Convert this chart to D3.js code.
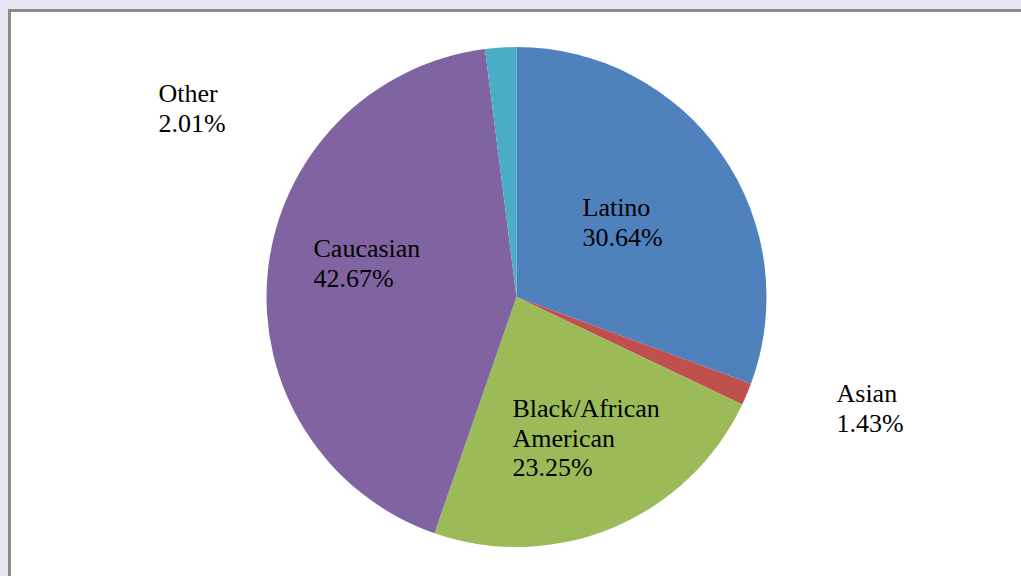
<!DOCTYPE html>
<html>
<head>
<meta charset="utf-8">
<script src="https://cdn.jsdelivr.net/npm/d3@7"></script>
<style>
  html, body { margin: 0; padding: 0; background: #e9e5f5; }
  svg { display: block; }
  .label { font-family: "Liberation Serif", "Times New Roman", serif; font-size: 26px; fill: #000; }
</style>
</head>
<body>
<svg id="chart" width="1021" height="576"></svg>
<script>
// Slices, clockwise from 12 o'clock
const categories = ['Latino', 'Asian', 'Black/African American', 'Caucasian', 'Other'];
const shares = [30.64, 1.43, 23.25, 42.67, 2.01];
const colors = ['#4f81bd', '#c0504d', '#9bbb59', '#8064a2', '#4bacc6'];

// Label lines (as shown on the chart)
const labelLines = [
  ['Latino', '30.64%'],
  ['Asian', '1.43%'],
  ['Black/African', 'American', '23.25%'],
  ['Caucasian', '42.67%'],
  ['Other', '2.01%']
];

const width = 1021;
const height = 576;
const cx = 516.5;
const cy = 297;
const radius = 250;

const svg = d3.select('#chart');

// Chart area with grey frame
svg.append('rect')
  .attr('x', 9.5)
  .attr('y', 10.5)
  .attr('width', width + 20)
  .attr('height', height + 20)
  .attr('fill', '#fff')
  .attr('stroke', '#8c8c8c')
  .attr('stroke-width', 3);

const pie = d3.pie()
  .value(d => d)
  .sort(null);

const arcs = pie(shares);

const arc = d3.arc()
  .innerRadius(0)
  .outerRadius(radius);

const g = svg.append('g')
  .attr('transform', `translate(${cx}, ${cy})`);

g.selectAll('path.slice')
  .data(arcs)
  .join('path')
  .attr('class', 'slice')
  .attr('d', arc)
  .attr('fill', (d, i) => colors[i]);

// Label offsets from the pie centre: left edge and first baseline
const labelPos = [
  { dx: 66, dy: -81 },    // Latino
  { dx: 320, dy: 105 },   // Asian
  { dx: -4, dy: 120 },    // Black/African American
  { dx: -203, dy: -40 },  // Caucasian
  { dx: -358, dy: -195 }  // Other
];

const lineHeight = 29.5;

const labels = svg.append('g');

labelLines.forEach((lines, i) => {
  const p = labelPos[i];
  const t = labels.append('text')
    .attr('class', 'label')
    .attr('x', cx + p.dx)
    .attr('y', cy + p.dy);
  lines.forEach((s, j) => {
    t.append('tspan')
      .attr('x', cx + p.dx)
      .attr('dy', j === 0 ? 0 : lineHeight)
      .text(s);
  });
});
</script>
</body>
</html>
